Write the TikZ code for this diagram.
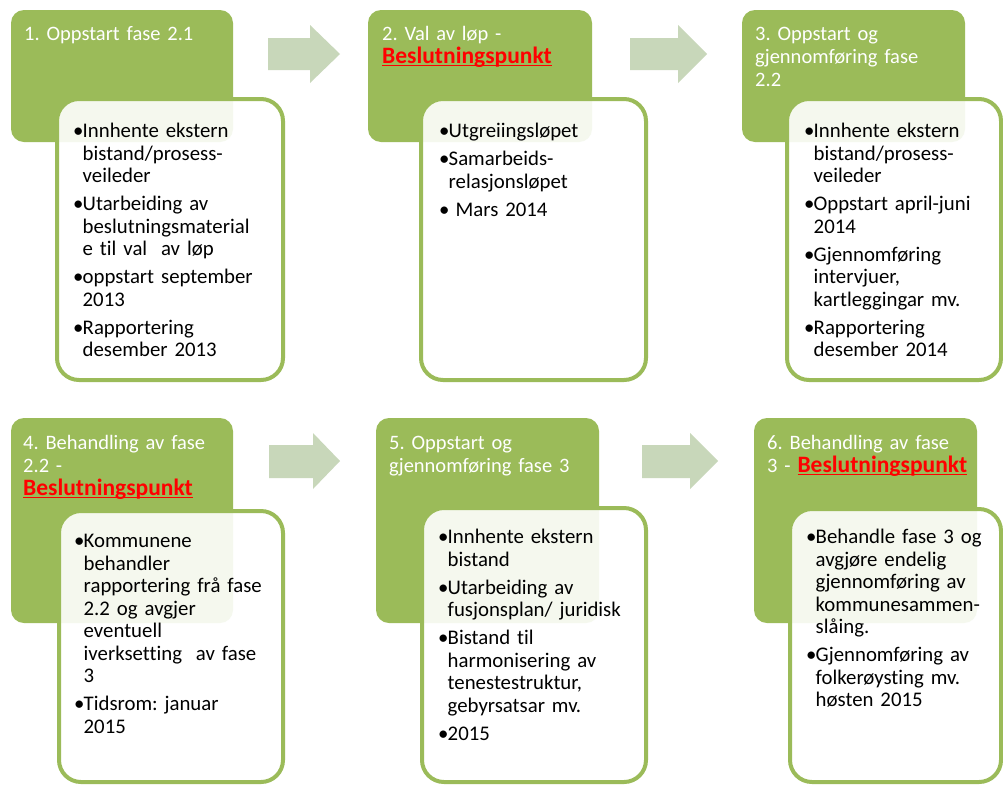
\documentclass[tikz,border=0pt]{standalone}
\usepackage{fontspec}
\setmainfont{Carlito}[Ligatures=NoCommon]
\definecolor{ogreen}{HTML}{9BBB59}
\definecolor{agreen}{HTML}{C8D7BA}
\definecolor{bred}{HTML}{FF0000}
\newsavebox\ulbox
\newcommand\redul[1]{\textcolor{bred}{\sbox\ulbox{\fontsize{23.5}{23}\selectfont\bfseries #1}\rlap{\rule[-3pt]{\wd\ulbox}{1.5pt}}\usebox\ulbox}}
\newcommand\itm[1]{\par\hangindent=9.5pt\hangafter=1\noindent\makebox[9.5pt][l]{\textbullet}#1\par\vspace{5.5pt}}
\newcommand\st{\rule{0pt}{16pt}}
\frenchspacing
\tikzset{
  phase/.style={fill=ogreen, draw=none, rounded corners=13pt, inner sep=0pt, outer sep=0pt, anchor=north west},
  detail/.style={draw=ogreen, line width=4pt, fill=white, fill opacity=0.9, rounded corners=22pt, inner sep=0pt, outer sep=0pt, anchor=north west},
  title/.style={anchor=north west, inner sep=0pt, text width=215pt, align=left, text=white, font=\fontsize{20.5}{23}\selectfont\frenchspacing},
  items/.style={anchor=north west, inner sep=0pt, text width=240pt, align=left, text=black, font=\fontsize{20.8}{22.5}\selectfont\frenchspacing},
  bigarrow/.style={fill=agreen, draw=none}
}
\begin{document}
\begin{tikzpicture}[x=1pt,y=-1pt]
\useasboundingbox[fill=white] (0,0) rectangle (1003,785);
% green phase boxes
\node[phase, minimum width=222pt, minimum height=132pt] (g1) at (11,10) {};
\node[phase, minimum width=224pt, minimum height=132pt] (g2) at (368,10) {};
\node[phase, minimum width=223pt, minimum height=132pt] (g3) at (742,10) {};
\node[phase, minimum width=222pt, minimum height=205pt] (g4) at (11,418) {};
\node[phase, minimum width=223pt, minimum height=205pt] (g5) at (376,418) {};
\node[phase, minimum width=223pt, minimum height=205pt] (g6) at (754,418) {};
% titles
\node[title] (t1) at (24,24) {\st 1. Oppstart fase 2.1};
\node[title] (t2) at (382,24) {\st 2. Val av løp -\newline\redul{Beslutningspunkt}};
\node[title] (t3) at (755,24) {\st 3. Oppstart og\newline gjennomføring fase\newline 2.2};
\node[title] (t4) at (23,433) {\st 4. Behandling av fase\newline 2.2 -\newline\redul{Beslutningspunkt}};
\node[title] (t5) at (389,433) {\st 5. Oppstart og\newline gjennomføring fase 3};
\node[title] (t6) at (767,433) {\st 6. Behandling av fase\newline 3 - \redul{Beslutningspunkt}};
% white detail boxes
\node[detail, minimum width=226pt, minimum height=281pt] (w1) at (57,99) {};
\node[detail, minimum width=225pt, minimum height=281pt] (w2) at (421,99) {};
\node[detail, minimum width=214pt, minimum height=281pt] (w3) at (787,99) {};
\node[detail, minimum width=224pt, minimum height=271pt] (w4) at (59,511) {};
\node[detail, minimum width=224pt, minimum height=274pt] (w5) at (422,508) {};
\node[detail, minimum width=211pt, minimum height=273pt] (w6) at (790,509) {};
% item lists
\node[items] (l1) at (73,115) {%
\itm{\st Innhente ekstern\newline bistand/prosess-\newline veileder}%
\itm{Utarbeiding av\newline beslutningsmaterial\newline e til val\ \ av løp}%
\itm{oppstart september\newline 2013}%
\itm{Rapportering\newline desember 2013}};
\node[items] (l2) at (439,115) {%
\itm{\st Utgreiingsløpet}%
\itm{Samarbeids-\newline relasjonsløpet}%
\itm{\ Mars 2014}};
\node[items] (l3) at (804,115) {%
\itm{\st Innhente ekstern\newline bistand/prosess-\newline veileder}%
\itm{Oppstart april-juni\newline 2014}%
\itm{Gjennomføring\newline intervjuer,\newline kartleggingar mv.}%
\itm{Rapportering\newline desember 2014}};
\node[items] (l4) at (74,525) {%
\itm{\st Kommunene\newline behandler\newline rapportering frå fase\newline 2.2 og avgjer\newline eventuell\newline iverksetting\ \ av fase\newline 3}%
\itm{Tidsrom: januar\newline 2015}};
\node[items] (l5) at (438,521) {%
\itm{\st Innhente ekstern\newline bistand}%
\itm{Utarbeiding av\newline fusjonsplan/ juridisk}%
\itm{Bistand til\newline harmonisering av\newline tenestestruktur,\newline gebyrsatsar mv.}%
\itm{2015}};
\node[items] (l6) at (806,521) {%
\itm{\st Behandle fase 3 og\newline avgjøre endelig\newline gjennomføring av\newline kommunesammen-\newline slåing.}%
\itm{Gjennomføring av\newline folkerøysting mv.\newline høsten 2015}};
% block arrows
\fill[bigarrow] (268,38) -- (310,38) -- (310,25) -- (340,54) -- (310,83) -- (310,70) -- (268,70) -- cycle;
\fill[bigarrow] (630,38) -- (678,38) -- (678,25) -- (707,54) -- (678,83) -- (678,70) -- (630,70) -- cycle;
\fill[bigarrow] (269,445) -- (313,445) -- (313,433) -- (340,461) -- (313,489) -- (313,478) -- (269,478) -- cycle;
\fill[bigarrow] (642,445) -- (690,445) -- (690,433) -- (718,461) -- (690,489) -- (690,478) -- (642,478) -- cycle;
\end{tikzpicture}
\end{document}
